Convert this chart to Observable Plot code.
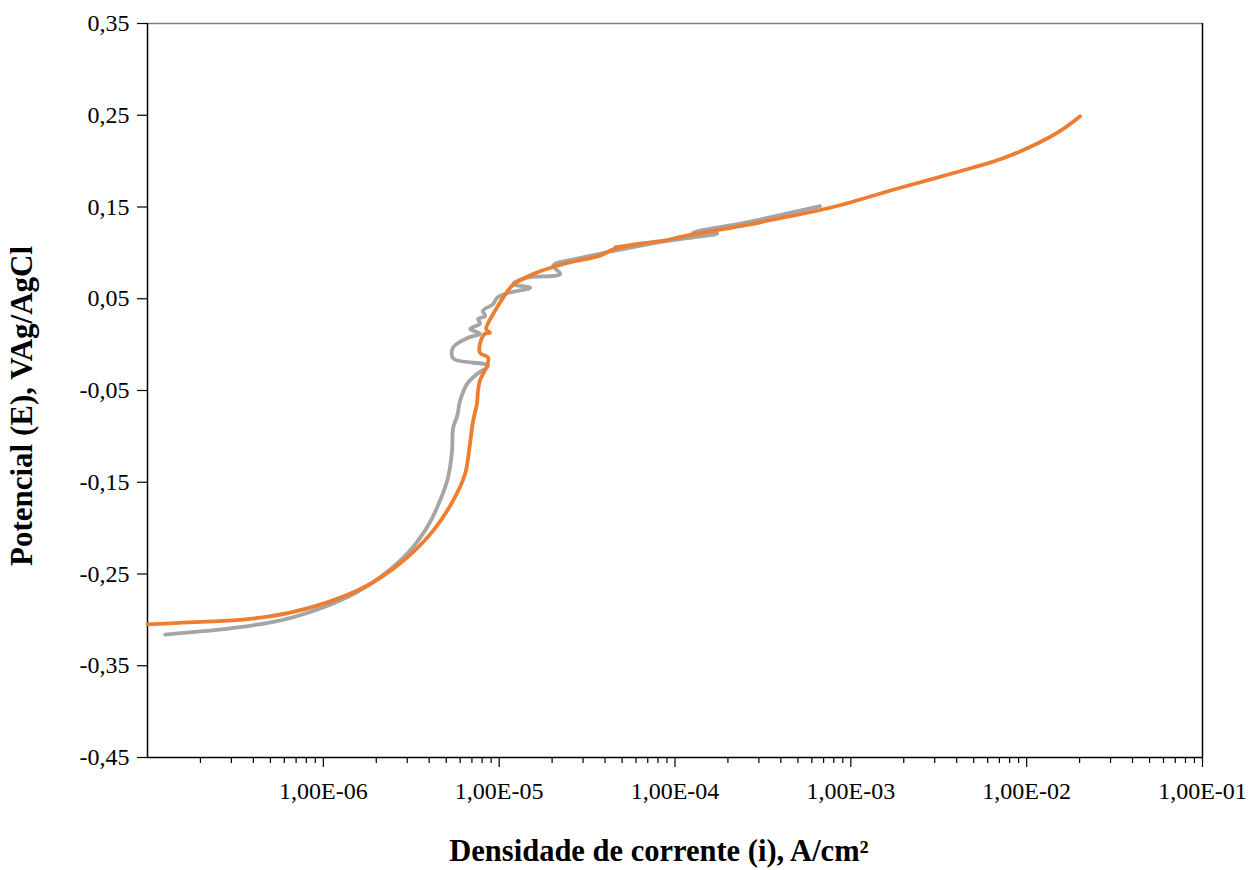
<!DOCTYPE html>
<html>
<head>
<meta charset="utf-8">
<script src="https://cdn.jsdelivr.net/npm/d3@7"></script>
<script src="https://cdn.jsdelivr.net/npm/@observablehq/plot@0.6"></script>
<style>
  html, body { margin: 0; padding: 0; background: white; }
</style>
</head>
<body>
<div id="chart"></div>
<script>
// log10 of current density (A/cm²) and potential (V Ag/AgCl)
const grayLogI = [-6.900, -6.474, -6.189, -5.905, -5.717, -5.524, -5.410, -5.336, -5.291, -5.268,
  -5.262, -5.239, -5.222, -5.183, -5.126, -5.063, -5.262, -5.262, -5.183, -5.109,
  -5.165, -5.109, -5.120, -5.080, -5.092, -5.035, -5.012, -4.955, -4.824, -4.921,
  -4.841, -4.653, -4.693, -4.522, -4.352, -4.272, -4.045, -3.760, -3.900, -3.600, -3.175];
const grayE = [-0.316, -0.308, -0.298, -0.279, -0.259, -0.228, -0.199, -0.170, -0.145, -0.116,
  -0.091, -0.078, -0.061, -0.043, -0.032, -0.023, -0.015, -0.003, 0.007, 0.012,
  0.017, 0.023, 0.028, 0.031, 0.037, 0.044, 0.051, 0.056, 0.062, 0.066,
  0.073, 0.077, 0.086, 0.095, 0.102, 0.105, 0.113, 0.121, 0.122, 0.133, 0.151];

const orangeLogI = [-7.000, -6.800, -6.474, -6.189, -5.905, -5.717, -5.524, -5.376, -5.262, -5.194,
  -5.166, -5.148, -5.126, -5.120, -5.109, -5.069, -5.063, -5.109, -5.109, -5.080,
  -5.052, -5.074, -5.023, -4.978, -4.927, -4.807, -4.614, -4.426, -4.352, -4.260,
  -4.340, -4.200, -4.045, -3.954, -3.573, -3.476, -3.101, -2.719, -2.435, -2.151,
  -1.963, -1.809, -1.696];
const orangeE = [-0.305, -0.303, -0.300, -0.292, -0.276, -0.259, -0.232, -0.203, -0.170, -0.141,
  -0.108, -0.083, -0.064, -0.050, -0.039, -0.023, -0.014, -0.009, 0.001, 0.012,
  0.013, 0.017, 0.037, 0.051, 0.064, 0.077, 0.089, 0.097, 0.104, 0.108,
  0.106, 0.110, 0.114, 0.118, 0.131, 0.135, 0.150, 0.171, 0.186, 0.202,
  0.217, 0.233, 0.249];

const xMajorTicks = [1e-6, 1e-5, 1e-4, 1e-3, 1e-2, 1e-1];
const xMinorMultipliers = [2, 3, 4, 5, 6, 7, 8, 9];
const xMinorDecades = [1e-7, 1e-6, 1e-5, 1e-4, 1e-3, 1e-2];
const yTicks = [-0.45, -0.35, -0.25, -0.15, -0.05, 0.05, 0.15, 0.25, 0.35];

const xTitle = "Densidade de corrente (i), A/cm²";
const yTitle = "Potencial (E), VAg/AgCl";

const gray = grayLogI.map((l, k) => ({i: Math.pow(10, l), E: grayE[k]}));
const orange = orangeLogI.map((l, k) => ({i: Math.pow(10, l), E: orangeE[k]}));
const xMinorTicks = xMinorDecades.flatMap(d => xMinorMultipliers.map(m => m * d));

const fmtX = d => "1,00E-" + String(Math.round(-Math.log10(d))).padStart(2, "0");
const fmtY = d => d.toFixed(2).replace(".", ",");

const chart = Plot.plot({
  width: 1248,
  height: 870,
  marginLeft: 147,
  marginRight: 46,
  marginTop: 23,
  marginBottom: 113,
  style: {fontFamily: "'Liberation Serif', 'Times New Roman', serif", fontSize: "24px", color: "black", background: "white", overflow: "visible"},
  x: {type: "log", domain: [1e-7, 1e-1], label: null},
  y: {domain: [-0.45, 0.35], label: null},
  marks: [
    Plot.ruleY([0.35], {stroke: "#808080", strokeWidth: 1.5}),
    Plot.ruleX([1e-1], {stroke: "black", strokeWidth: 1.5}),
    Plot.ruleX([1e-7], {stroke: "black", strokeWidth: 1.5}),
    Plot.ruleY([-0.45], {stroke: "black", strokeWidth: 1.5}),
    Plot.axisX({ticks: xMinorTicks, tickSize: 6, tickFormat: () => "", label: null, strokeWidth: 1.2}),
    Plot.axisX({ticks: xMajorTicks, tickSize: 10, tickPadding: 14, tickFormat: fmtX, label: null, strokeWidth: 1.2}),
    Plot.axisY({ticks: yTicks, tickSize: 10, tickPadding: 8, tickFormat: fmtY, label: null, strokeWidth: 1.2}),
    Plot.line(gray, {x: "i", y: "E", stroke: "#A5A5A5", strokeWidth: 3.8, curve: "catmull-rom", strokeLinejoin: "round", strokeLinecap: "round"}),
    Plot.line(orange, {x: "i", y: "E", stroke: "#ED7D31", strokeWidth: 3.8, curve: "catmull-rom", strokeLinejoin: "round", strokeLinecap: "round"})
  ]
});

const svg = d3.select(chart);
svg.append("text")
  .attr("x", 659).attr("y", 861)
  .attr("text-anchor", "middle")
  .attr("font-family", "'Liberation Serif', 'Times New Roman', serif")
  .attr("font-weight", "bold")
  .attr("font-size", 30.5)
  .attr("fill", "black")
  .text(xTitle);
svg.append("text")
  .attr("transform", "translate(32,406) rotate(-90)")
  .attr("text-anchor", "middle")
  .attr("font-family", "'Liberation Serif', 'Times New Roman', serif")
  .attr("font-weight", "bold")
  .attr("font-size", 31)
  .attr("fill", "black")
  .text(yTitle);

document.getElementById("chart").appendChild(chart);
</script>
</body>
</html>
